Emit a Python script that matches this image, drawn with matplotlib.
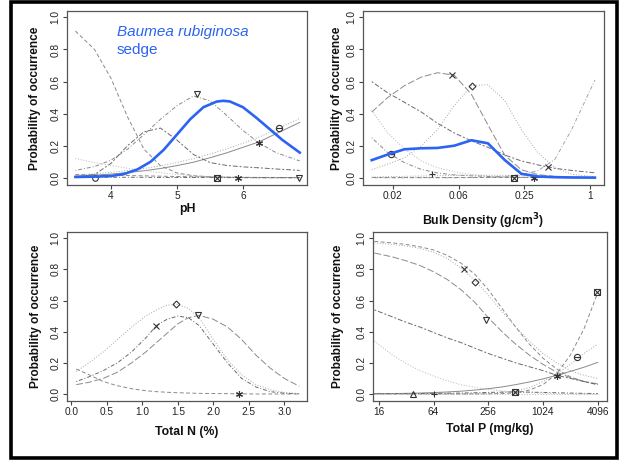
import matplotlib
matplotlib.use("Agg")
import matplotlib.pyplot as plt
import matplotlib.patches as patches
from matplotlib.ticker import NullLocator

plt.rcParams['font.family'] = ['Liberation Sans', 'DejaVu Sans']

# ---------------- pH panel ----------------
ph = [3.46, 3.75, 4.0, 4.25, 4.5, 4.75, 5.0, 5.25, 5.5, 5.75, 6.0, 6.25, 6.5, 6.86]
ph_blue = [3.46, 3.75, 4.0, 4.2, 4.4, 4.6, 4.8, 5.0, 5.2, 5.4, 5.6, 5.7, 5.8, 6.0, 6.2, 6.4, 6.6, 6.86]
ph_baumea = [0.005, 0.007, 0.011, 0.024, 0.052, 0.1, 0.175, 0.27, 0.365, 0.44, 0.475, 0.48, 0.476, 0.44, 0.375, 0.305, 0.235, 0.157]
ph_sp_a = [0.046, 0.07, 0.11, 0.178, 0.27, 0.365, 0.45, 0.51, 0.48, 0.39, 0.295, 0.215, 0.157, 0.105]
ph_sp_b = [0.01, 0.016, 0.023, 0.032, 0.044, 0.058, 0.076, 0.097, 0.125, 0.155, 0.19, 0.225, 0.275, 0.345]
ph_sp_c = [0.018, 0.025, 0.034, 0.045, 0.058, 0.075, 0.095, 0.12, 0.148, 0.18, 0.215, 0.255, 0.30, 0.37]
ph_sp_d = [0.005, 0.02, 0.09, 0.2, 0.287, 0.31, 0.235, 0.145, 0.095, 0.077, 0.068, 0.062, 0.055, 0.046]
ph_sp_e = [0.915, 0.8, 0.62, 0.38, 0.178, 0.075, 0.03, 0.013, 0.006, 0.003, 0.001, 0.0, 0.0, 0.0]
ph_sp_f = [0.12, 0.095, 0.077, 0.06, 0.045, 0.032, 0.021, 0.013, 0.008, 0.005, 0.003, 0.002, 0.001, 0.0]
ph_sp_g = [0.02, 0.018, 0.016, 0.014, 0.012, 0.01, 0.008, 0.006, 0.005, 0.004, 0.003, 0.002, 0.002, 0.001]
ph_sp_h = [0.004, 0.004, 0.003, 0.003, 0.003, 0.002, 0.002, 0.002, 0.002, 0.001, 0.001, 0.001, 0.001, 0.001]
ph_mk_x = [5.3, 6.24, 6.55, 5.6, 5.92, 6.85, 3.75]
ph_mk_y = [0.52, 0.22, 0.31, 0.0, 0.0, 0.0, 0.0]
ph_mk_sym = ['tri_down', 'asterisk', 'theta', 'box_x', 'asterisk', 'tri_down', 'circle']

# ---------------- Bulk density panel ----------------
bd = [0.010, 0.014, 0.020, 0.0285, 0.040, 0.057, 0.082, 0.116, 0.166, 0.235, 0.335, 0.477, 0.678, 1.11]
bd_baumea = [0.11, 0.145, 0.178, 0.184, 0.186, 0.20, 0.234, 0.215, 0.11, 0.025, 0.008, 0.004, 0.002, 0.001]
bd_sp_a = [0.41, 0.50, 0.575, 0.628, 0.655, 0.64, 0.52, 0.33, 0.14, 0.05, 0.02, 0.008, 0.003, 0.001]
bd_sp_b = [0.05, 0.085, 0.125, 0.2, 0.30, 0.45, 0.575, 0.58, 0.48, 0.30, 0.155, 0.063, 0.022, 0.006]
bd_sp_c = [0.60, 0.53, 0.47, 0.41, 0.34, 0.28, 0.23, 0.19, 0.142, 0.105, 0.08, 0.059, 0.046, 0.031]
bd_sp_d = [0.0, 0.0, 0.0, 0.0, 0.0, 0.0, 0.001, 0.003, 0.008, 0.02, 0.045, 0.115, 0.30, 0.61]
bd_sp_e = [0.42, 0.28, 0.18, 0.105, 0.063, 0.038, 0.02, 0.01, 0.005, 0.002, 0.001, 0.0, 0.0, 0.0]
bd_sp_f = [0.25, 0.157, 0.094, 0.052, 0.03, 0.018, 0.012, 0.008, 0.005, 0.003, 0.002, 0.001, 0.0, 0.0]
bd_sp_g = [0.002, 0.002, 0.002, 0.002, 0.002, 0.002, 0.002, 0.002, 0.002, 0.002, 0.002, 0.002, 0.002, 0.002]
bd_sp_h = [0.005, 0.007, 0.009, 0.011, 0.013, 0.015, 0.016, 0.016, 0.015, 0.013, 0.01, 0.007, 0.005, 0.003]
bd_mk_x = [0.0547, 0.0835, 0.0150, 0.0359, 0.203, 0.306, 0.414]
bd_mk_y = [0.64, 0.575, 0.15, 0.025, 0.0, 0.0, 0.07]
bd_mk_sym = ['cross', 'diamond', 'theta', 'plus', 'box_x', 'asterisk', 'cross']

# ---------------- Total N panel ----------------
tn = [0.07, 0.25, 0.45, 0.65, 0.85, 1.05, 1.2, 1.35, 1.5, 1.65, 1.8, 2.0, 2.2, 2.4, 2.6, 2.8, 3.0, 3.21]
tn_sp_a = [0.145, 0.2, 0.27, 0.35, 0.43, 0.50, 0.54, 0.57, 0.575, 0.55, 0.49, 0.35, 0.22, 0.124, 0.06, 0.028, 0.01, 0.003]
tn_sp_b = [0.08, 0.11, 0.15, 0.2, 0.27, 0.36, 0.44, 0.48, 0.50, 0.49, 0.44, 0.32, 0.2, 0.1, 0.045, 0.015, 0.005, 0.001]
tn_sp_c = [0.06, 0.075, 0.1, 0.14, 0.2, 0.27, 0.33, 0.39, 0.45, 0.49, 0.505, 0.48, 0.43, 0.35, 0.25, 0.167, 0.1, 0.05]
tn_sp_d = [0.16, 0.124, 0.08, 0.053, 0.034, 0.021, 0.015, 0.011, 0.008, 0.006, 0.004, 0.003, 0.002, 0.001, 0.0, 0.0, 0.0, 0.0]
tn_mk_x = [1.47, 1.2, 1.78, 2.36]
tn_mk_y = [0.575, 0.438, 0.504, 0.0]
tn_mk_sym = ['diamond', 'cross', 'tri_down', 'asterisk']

# ---------------- Total P panel ----------------
tp = [14.3, 22.6, 32, 45.3, 64, 90.5, 128, 181, 256, 362, 512, 724, 1024, 1448, 2048, 2896, 4096]
tp_sp_a = [0.98, 0.97, 0.96, 0.945, 0.925, 0.89, 0.84, 0.77, 0.67, 0.55, 0.43, 0.32, 0.23, 0.16, 0.11, 0.08, 0.06]
tp_sp_b = [0.97, 0.96, 0.95, 0.935, 0.91, 0.87, 0.81, 0.73, 0.635, 0.53, 0.43, 0.34, 0.26, 0.2, 0.15, 0.12, 0.10]
tp_sp_c = [0.905, 0.88, 0.855, 0.825, 0.785, 0.735, 0.67, 0.59, 0.49, 0.40, 0.32, 0.25, 0.19, 0.14, 0.105, 0.08, 0.065]
tp_sp_d = [0.54, 0.495, 0.46, 0.43, 0.395, 0.36, 0.33, 0.295, 0.26, 0.23, 0.2, 0.175, 0.15, 0.12, 0.1, 0.08, 0.06]
tp_sp_e = [0.34, 0.25, 0.195, 0.15, 0.115, 0.085, 0.06, 0.043, 0.03, 0.02, 0.013, 0.008, 0.005, 0.003, 0.002, 0.001, 0.0]
tp_sp_f = [0.002, 0.003, 0.004, 0.006, 0.009, 0.013, 0.018, 0.025, 0.034, 0.045, 0.06, 0.077, 0.097, 0.12, 0.145, 0.172, 0.203]
tp_sp_g = [0.0, 0.0, 0.0, 0.0, 0.0, 0.0, 0.001, 0.002, 0.005, 0.01, 0.02, 0.04, 0.08, 0.13, 0.19, 0.26, 0.32]
tp_sp_h = [0.0, 0.0, 0.0, 0.0, 0.0, 0.0, 0.0, 0.0, 0.001, 0.003, 0.008, 0.025, 0.06, 0.13, 0.25, 0.42, 0.65]
tp_sp_i = [0.002, 0.002, 0.003, 0.003, 0.004, 0.005, 0.006, 0.008, 0.01, 0.012, 0.013, 0.012, 0.01, 0.008, 0.006, 0.004, 0.003]
tp_sp_j = [0.0, 0.0, 0.0, 0.0, 0.0, 0.0, 0.0, 0.0, 0.0, 0.0, 0.0, 0.0, 0.0, 0.0, 0.0, 0.0, 0.0]
tp_mk_x = [138, 181, 241, 1466, 2400, 4000, 37.6, 64.6, 505]
tp_mk_y = [0.805, 0.721, 0.478, 0.114, 0.238, 0.652, 0.0, 0.0, 0.013]
tp_mk_sym = ['cross', 'diamond', 'tri_down', 'asterisk', 'theta', 'box_x', 'tri_up', 'plus', 'box_x']

y_ticks = [0.0, 0.2, 0.4, 0.6, 0.8, 1.0]
y_tick_labels = ['0.0', '0.2', '0.4', '0.6', '0.8', '1.0']

BLUE = '#2b63f2'
DASHED = (0, (4, 2.5))
DOTTED = (0, (1, 1.8))
DOTDASH = (0, (1, 2, 4, 2))
LONGDASH = (0, (7, 2.5))
TWODASH = (0, (2, 2, 5, 2))
LW = 0.7

# grey shades used by the species curves
G1, G2, G3, G4 = '#6a6a6a', '#8a8a8a', '#a5a5a5', '#b8b8b8'


def draw_marker(ax, x, y, sym):
    kw = dict(color='#333333', mew=0.8, linestyle='none', zorder=4)
    if sym == 'tri_down':
        ax.plot(x, y, marker='v', mfc='none', ms=4.5, **kw)
    elif sym == 'tri_up':
        ax.plot(x, y, marker='^', mfc='none', ms=4.5, **kw)
    elif sym == 'diamond':
        ax.plot(x, y, marker='D', mfc='none', ms=3.5, **kw)
    elif sym == 'circle':
        ax.plot(x, y, marker='o', mfc='none', ms=4, **kw)
    elif sym == 'cross':
        ax.plot(x, y, marker='x', ms=4.5, **kw)
    elif sym == 'plus':
        ax.plot(x, y, marker='+', ms=5, **kw)
    elif sym == 'asterisk':
        ax.plot(x, y, marker=(6, 2, 0), ms=5, **kw)
    elif sym == 'box_x':
        ax.plot(x, y, marker='s', mfc='none', ms=4, **kw)
        ax.plot(x, y, marker='x', ms=4, **kw)
    elif sym == 'theta':
        ax.plot(x, y, marker='o', mfc='none', ms=4.5, **kw)
        ax.plot(x, y, marker='_', ms=4.5, **kw)


def style_axes(ax, xlabel, label_y, ylabel_x):
    ax.set_ylim(-0.045, 1.04)
    ax.set_yticks(y_ticks)
    ax.set_yticklabels(y_tick_labels, rotation=90, va='center')
    ax.tick_params(direction='out', length=3, width=0.8, color='#444444',
                   labelsize=7.3, labelcolor='#222222', pad=1.5)
    for sp in ax.spines.values():
        sp.set_color('#555555')
        sp.set_linewidth(0.9)
    ax.set_xlabel(xlabel, fontsize=8.8, fontweight='bold', color='#111111')
    ax.set_ylabel('Probability of occurrence', fontsize=8.6, fontweight='bold', color='#111111')
    ax.xaxis.set_label_coords(0.5, label_y)
    ax.yaxis.set_label_coords(ylabel_x, 0.5)


fig = plt.figure(figsize=(6.22, 4.61), dpi=100)
W, H = 622.0, 461.0


def add_axes(left, right, top, bottom):
    return fig.add_axes([left / W, (H - bottom) / H, (right - left) / W, (bottom - top) / H])


# pH
ax1 = add_axes(67, 307, 11, 185)
ax1.plot(ph, ph_sp_e, color=G2, lw=LW, ls=DASHED)
ax1.plot(ph, ph_sp_a, color=G2, lw=LW, ls=DOTDASH)
ax1.plot(ph, ph_sp_b, color=G2, lw=LW, ls='-')
ax1.plot(ph, ph_sp_c, color=G3, lw=LW, ls=DOTTED)
ax1.plot(ph, ph_sp_d, color=G1, lw=LW, ls=TWODASH)
ax1.plot(ph, ph_sp_f, color=G4, lw=LW, ls=DOTTED)
ax1.plot(ph, ph_sp_g, color=G2, lw=LW, ls=DASHED)
ax1.plot(ph, ph_sp_h, color=G1, lw=LW, ls=DOTDASH)
ax1.plot(ph_blue, ph_baumea, color=BLUE, lw=1.9, zorder=5)
for x, y, s in zip(ph_mk_x, ph_mk_y, ph_mk_sym):
    draw_marker(ax1, x, y, s)
ax1.set_xlim(3.333, 6.97)
ax1.set_xticks([4, 5, 6])
ax1.set_xticklabels(['4', '5', '6'])
style_axes(ax1, 'pH', -0.105, -0.11)
ax1.text(0.208, 0.879, 'Baumea rubiginosa', transform=ax1.transAxes, color=BLUE,
         fontsize=11, fontstyle='italic', va='center', ha='left')
ax1.text(0.208, 0.776, 'sedge', transform=ax1.transAxes, color=BLUE,
         fontsize=11, va='center', ha='left')

# Bulk density
ax2 = add_axes(363, 604, 11, 185)
ax2.set_xscale('log')
ax2.plot(bd, bd_sp_a, color=G2, lw=LW, ls=LONGDASH)
ax2.plot(bd, bd_sp_b, color=G3, lw=LW, ls=DOTTED)
ax2.plot(bd, bd_sp_c, color=G1, lw=LW, ls=TWODASH)
ax2.plot(bd, bd_sp_d, color=G3, lw=LW, ls=DOTDASH)
ax2.plot(bd, bd_sp_e, color=G4, lw=LW, ls=DOTTED)
ax2.plot(bd, bd_sp_f, color=G2, lw=LW, ls=DOTDASH)
ax2.plot(bd, bd_sp_g, color=G2, lw=LW, ls=DASHED)
ax2.plot(bd, bd_sp_h, color=G3, lw=LW, ls=DOTTED)
ax2.plot(bd, bd_baumea, color=BLUE, lw=1.9, zorder=5)
for x, y, s in zip(bd_mk_x, bd_mk_y, bd_mk_sym):
    draw_marker(ax2, x, y, s)
ax2.set_xlim(0.00832, 1.344)
ax2.set_xticks([1 / 64, 1 / 16, 1 / 4, 1])
ax2.set_xticklabels(['0.02', '0.06', '0.25', '1'])
ax2.xaxis.set_minor_locator(NullLocator())
style_axes(ax2, 'Bulk Density (g/cm$^\\mathbf{3}$)', -0.15, -0.081)

# Total N
ax3 = add_axes(67, 307, 232, 401)
ax3.plot(tn, tn_sp_a, color=G3, lw=LW, ls=DOTTED)
ax3.plot(tn, tn_sp_b, color=G1, lw=LW, ls=DOTDASH)
ax3.plot(tn, tn_sp_c, color=G2, lw=LW, ls=LONGDASH)
ax3.plot(tn, tn_sp_d, color=G2, lw=LW, ls=DASHED)
for x, y, s in zip(tn_mk_x, tn_mk_y, tn_mk_sym):
    draw_marker(ax3, x, y, s)
ax3.set_xlim(-0.06, 3.32)
ax3.set_xticks([0.0, 0.5, 1.0, 1.5, 2.0, 2.5, 3.0])
ax3.set_xticklabels(['0.0', '0.5', '1.0', '1.5', '2.0', '2.5', '3.0'])
style_axes(ax3, 'Total N (%)', -0.15, -0.104)

# Total P
ax4 = add_axes(373, 607, 232, 401)
ax4.set_xscale('log')
ax4.plot(tp, tp_sp_a, color=G2, lw=LW, ls=DASHED)
ax4.plot(tp, tp_sp_b, color=G3, lw=LW, ls=DOTTED)
ax4.plot(tp, tp_sp_c, color=G2, lw=LW, ls=LONGDASH)
ax4.plot(tp, tp_sp_d, color=G1, lw=LW, ls=TWODASH)
ax4.plot(tp, tp_sp_e, color=G4, lw=LW, ls=DOTTED)
ax4.plot(tp, tp_sp_f, color=G2, lw=LW, ls='-')
ax4.plot(tp, tp_sp_g, color=G3, lw=LW, ls=DOTTED)
ax4.plot(tp, tp_sp_h, color=G2, lw=LW, ls=DASHED)
ax4.plot(tp, tp_sp_i, color=G1, lw=LW, ls=DOTDASH)
ax4.plot(tp, tp_sp_j, color=G4, lw=LW, ls=DOTTED)
for x, y, s in zip(tp_mk_x, tp_mk_y, tp_mk_sym):
    draw_marker(ax4, x, y, s)
ax4.set_xlim(13.8, 5180)
ax4.set_xticks([16, 64, 256, 1024, 4096])
ax4.set_xticklabels(['16', '64', '256', '1024', '4096'])
ax4.xaxis.set_minor_locator(NullLocator())
style_axes(ax4, 'Total P (mg/kg)', -0.133, -0.122)

# black frame around the whole figure
frame = patches.Rectangle((11 / W, 3.5 / H), 605.5 / W, 455 / H, transform=fig.transFigure,
                          fill=False, lw=2.6, edgecolor='black')
fig.patches.append(frame)

fig.savefig('out.png', dpi=100)
